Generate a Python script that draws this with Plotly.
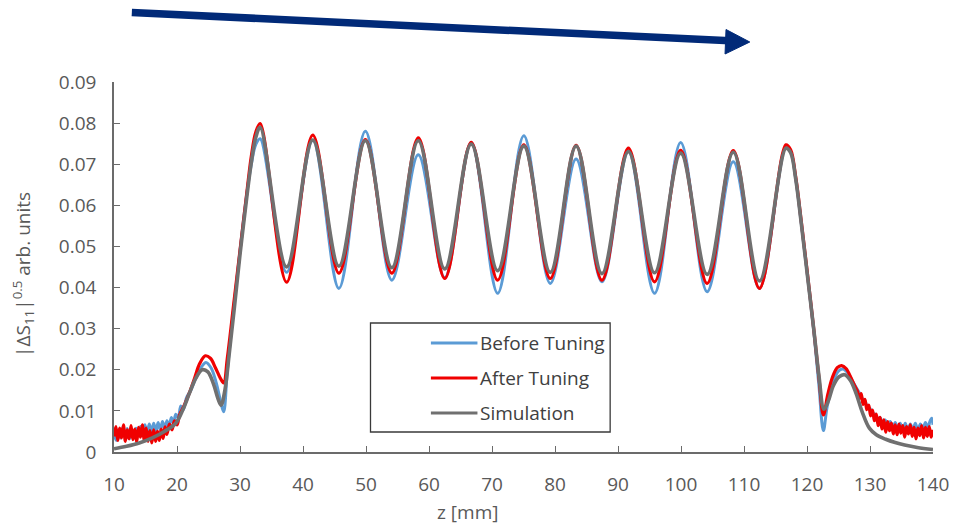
import plotly.graph_objects as go

# ---------------- data ----------------
series_names = ["Before Tuning", "After Tuning", "Simulation"]
series_colors = ["#5B9BD5", "#F00000", "#707070"]

x_ticks = [10, 20, 30, 40, 50, 60, 70, 80, 90, 100, 110, 120, 130, 140]
y_ticks = [0, 0.01, 0.02, 0.03, 0.04, 0.05, 0.06, 0.07, 0.08, 0.09]
y_tick_text = ["0", "0.01", "0.02", "0.03", "0.04", "0.05", "0.06", "0.07", "0.08", "0.09"]

# oscillation extrema positions (mm)
peak_z = [33.2, 41.55, 49.9, 58.3, 66.7, 75.05, 83.35, 91.65, 99.95, 108.3, 116.65]
valley_z = [37.4, 45.7, 54.1, 62.5, 70.9, 79.25, 87.45, 95.8, 104.15, 112.45]

before_peaks = [0.0762, 0.0758, 0.0780, 0.0723, 0.0752, 0.0769, 0.0713, 0.0731, 0.0753, 0.0706, 0.0741]
before_valleys = [0.0437, 0.0398, 0.0418, 0.0424, 0.0386, 0.0410, 0.0414, 0.0386, 0.0390, 0.0398]
after_peaks = [0.0799, 0.0771, 0.0760, 0.0764, 0.0753, 0.0747, 0.0746, 0.0739, 0.0734, 0.0733, 0.0747]
after_valleys = [0.0413, 0.0435, 0.0435, 0.0422, 0.0418, 0.0422, 0.0418, 0.0414, 0.0410, 0.0398]
sim_peaks = [0.0790, 0.0759, 0.0757, 0.0757, 0.0749, 0.0744, 0.0744, 0.0731, 0.0727, 0.0729, 0.0739]
sim_valleys = [0.0450, 0.0452, 0.0448, 0.0445, 0.0441, 0.0437, 0.0434, 0.0436, 0.0432, 0.0416]

# left part (z < first peak), right part (z > last peak)
before_left_z = [10.0, 10.35, 10.7, 11.05, 11.4, 11.75, 12.1, 12.45, 12.8, 13.15, 13.5, 13.85,
                 14.2, 14.55, 14.9, 15.25, 15.6, 15.95, 16.3, 16.65, 17.0, 17.35, 17.7, 18.05,
                 18.4, 18.75, 19.1, 19.45, 19.8, 20.2, 20.6, 21.0, 21.5, 22.2, 23.0, 23.8,
                 24.6, 25.4, 26.2, 26.9, 27.4, 28.0, 29.0, 30.0, 31.0, 31.8, 32.5]
before_left_v = [0.0045, 0.0028, 0.0054, 0.0034, 0.0060, 0.0038, 0.0057, 0.0032, 0.0052, 0.0036,
                 0.0058, 0.0040, 0.0062, 0.0043, 0.0066, 0.0046, 0.0068, 0.0048, 0.0070, 0.0050,
                 0.0072, 0.0054, 0.0074, 0.0056, 0.0076, 0.0062, 0.0084, 0.0070, 0.0092, 0.0083,
                 0.0112, 0.0103, 0.0132, 0.0150, 0.0180, 0.0205, 0.0218, 0.0205, 0.0170, 0.0125,
                 0.0098, 0.0200, 0.0350, 0.0490, 0.0620, 0.0700, 0.0748]
before_right_z = [117.4, 118.2, 119.1, 120.1, 121.1, 121.9, 122.6, 123.2, 124.0, 124.9, 125.7,
                  126.5, 127.3, 128.0, 128.4, 128.8, 129.2, 129.6, 130.0, 130.4, 130.8, 131.2,
                  131.6, 132.0, 132.4, 132.8, 133.2, 133.6, 134.0, 134.4, 134.8, 135.2, 135.6,
                  136.0, 136.4, 136.8, 137.2, 137.6, 138.0, 138.4, 138.8, 139.2, 139.5, 139.8, 140.0]
before_right_v = [0.0730, 0.0665, 0.0555, 0.0425, 0.0290, 0.0160, 0.0052, 0.0110, 0.0160, 0.0195,
                  0.0202, 0.0192, 0.0170, 0.0152, 0.0142, 0.0130, 0.0124, 0.0110, 0.0106, 0.0094,
                  0.0092, 0.0080, 0.0084, 0.0070, 0.0078, 0.0064, 0.0074, 0.0058, 0.0072, 0.0056,
                  0.0070, 0.0054, 0.0070, 0.0052, 0.0068, 0.0054, 0.0070, 0.0052, 0.0068, 0.0056,
                  0.0072, 0.0058, 0.0074, 0.0082, 0.0066]

after_left_z = [10.0, 10.3, 10.6, 10.9, 11.2, 11.5, 11.8, 12.1, 12.4, 12.7, 13.0, 13.3, 13.6,
                13.9, 14.2, 14.5, 14.8, 15.1, 15.4, 15.7, 16.0, 16.3, 16.6, 16.9, 17.2, 17.5,
                17.8, 18.1, 18.4, 18.8, 19.2, 19.6, 20.0, 20.4, 21.2, 22.0, 22.8, 23.6, 24.5,
                25.3, 26.1, 26.8, 27.4, 28.0, 29.0, 30.0, 31.0, 31.8, 32.5]
after_left_v = [0.0038, 0.0062, 0.0028, 0.0058, 0.0034, 0.0066, 0.0026, 0.0054, 0.0032, 0.0064,
                0.0030, 0.0056, 0.0024, 0.0060, 0.0036, 0.0066, 0.0029, 0.0058, 0.0026, 0.0052,
                0.0022, 0.0054, 0.0026, 0.0050, 0.0028, 0.0056, 0.0033, 0.0061, 0.0043, 0.0068,
                0.0054, 0.0076, 0.0066, 0.0090, 0.0115, 0.0145, 0.0180, 0.0215, 0.0234, 0.0228,
                0.0205, 0.0182, 0.0168, 0.0230, 0.0360, 0.0490, 0.0620, 0.0720, 0.0778]
after_right_z = [117.4, 118.2, 119.1, 120.1, 121.1, 121.9, 122.6, 123.3, 124.0, 124.8, 125.5,
                 126.2, 127.0, 127.6, 128.0, 128.3, 128.6, 128.9, 129.2, 129.5, 129.8, 130.1,
                 130.4, 130.7, 131.0, 131.3, 131.6, 131.9, 132.2, 132.5, 132.8, 133.1, 133.4,
                 133.7, 134.0, 134.3, 134.6, 134.9, 135.2, 135.5, 135.8, 136.1, 136.4, 136.7,
                 137.0, 137.3, 137.6, 137.9, 138.2, 138.5, 138.8, 139.1, 139.4, 139.7, 140.0]
after_right_v = [0.0735, 0.0670, 0.0560, 0.0430, 0.0295, 0.0180, 0.0090, 0.0140, 0.0180, 0.0205,
                 0.0210, 0.0203, 0.0180, 0.0160, 0.0148, 0.0130, 0.0142, 0.0116, 0.0128, 0.0103,
                 0.0114, 0.0088, 0.0102, 0.0076, 0.0092, 0.0064, 0.0084, 0.0056, 0.0078, 0.0048,
                 0.0074, 0.0052, 0.0070, 0.0044, 0.0066, 0.0042, 0.0068, 0.0046, 0.0064, 0.0036,
                 0.0062, 0.0044, 0.0066, 0.0038, 0.0060, 0.0032, 0.0058, 0.0040, 0.0064, 0.0034,
                 0.0060, 0.0038, 0.0062, 0.0036, 0.0054]

sim_left_z = [10.0, 12.0, 14.0, 16.0, 18.0, 19.8, 21.0, 21.9, 23.0, 24.0, 24.9, 25.8, 26.5,
              27.0, 27.6, 28.3, 29.1, 30.0, 31.0, 31.8, 32.5]
sim_left_v = [0.0008, 0.0014, 0.0022, 0.0034, 0.0050, 0.0070, 0.0105, 0.0140, 0.0180, 0.0200,
              0.0195, 0.0165, 0.0130, 0.0114, 0.0150, 0.0240, 0.0350, 0.0480, 0.0610, 0.0705, 0.0765]
sim_right_z = [117.4, 118.2, 119.1, 120.1, 121.1, 121.9, 122.7, 123.4, 124.2, 125.1, 126.0,
               126.9, 127.8, 128.8, 129.9, 131.0, 132.5, 134.0, 135.5, 137.5, 140.0]
sim_right_v = [0.0728, 0.0665, 0.0555, 0.0425, 0.0295, 0.0185, 0.0104, 0.0125, 0.0162, 0.0183,
               0.0188, 0.0174, 0.0142, 0.0096, 0.0058, 0.0042, 0.0031, 0.0023, 0.0017, 0.0011, 0.0006]


def assemble(left_z, left_v, peaks, valleys, right_z, right_v):
    zs, vs = list(left_z), list(left_v)
    for i, pz in enumerate(peak_z):
        zs.append(pz)
        vs.append(peaks[i])
        if i < len(valley_z):
            zs.append(valley_z[i])
            vs.append(valleys[i])
    zs += right_z
    vs += right_v
    return zs, vs


series = [
    assemble(before_left_z, before_left_v, before_peaks, before_valleys, before_right_z, before_right_v),
    assemble(after_left_z, after_left_v, after_peaks, after_valleys, after_right_z, after_right_v),
    assemble(sim_left_z, sim_left_v, sim_peaks, sim_valleys, sim_right_z, sim_right_v),
]
line_widths = [3, 3.2, 3.6]

# ---------------- figure ----------------
W, H = 961, 527
ML, MR, MT, MB = 114, 20, 82, 75
PW, PH = W - ML - MR, H - MT - MB
FONT = "Open Sans, sans-serif"


def px(x):
    return (x - ML) / PW


def py(y):
    return (H - MB - y) / PH


fig = go.Figure()
for (zs, vs), name, color, lw in zip(series, series_names, series_colors, line_widths):
    fig.add_trace(go.Scatter(x=zs, y=vs, mode="lines", name=name, showlegend=False,
                             line=dict(color=color, width=lw, shape="spline", smoothing=1.0)))

tick_font = dict(family=FONT, size=19, color="#595959")
axis_common = dict(showline=True, linecolor="#6b6b6b", linewidth=1.5, ticks="inside",
                   ticklen=6, tickwidth=1.3, tickcolor="#6b6b6b", showgrid=False,
                   zeroline=False, tickfont=tick_font)

fig.update_layout(
    width=W, height=H, margin=dict(l=ML, r=MR, t=MT, b=MB),
    paper_bgcolor="white", plot_bgcolor="white",
    xaxis=dict(range=[10, 140], tickvals=x_ticks, ticktext=[str(t) for t in x_ticks],
               ticklabelstandoff=14, **axis_common),
    yaxis=dict(range=[0, 0.09], tickvals=y_ticks, ticktext=y_tick_text,
               ticklabelstandoff=12, **axis_common),
)

shapes = []
annotations = []

# axis titles
annotations.append(dict(xref="paper", yref="paper", x=px(22), y=py(274), showarrow=False,
                        text="|ΔS<sub>11</sub>|<sup>0.5</sup> arb. units", textangle=-90,
                        xanchor="center", yanchor="middle",
                        font=dict(family=FONT, size=19, color="#595959")))
annotations.append(dict(xref="paper", yref="paper", x=px(471), y=py(512), showarrow=False,
                        text="z [mm]", xanchor="center", yanchor="middle",
                        font=dict(family=FONT, size=19, color="#595959")))

# legend box (drawn manually to match the reference layout)
shapes.append(dict(type="rect", xref="paper", yref="paper", x0=px(373), x1=px(615),
                   y0=py(432), y1=py(323), line=dict(color="#3a3a3a", width=1.3),
                   fillcolor="white", layer="above"))
legend_rows = [343, 378, 413]
for name, color, yy in zip(series_names, series_colors, legend_rows):
    shapes.append(dict(type="line", xref="paper", yref="paper", x0=px(434), x1=px(481),
                       y0=py(yy), y1=py(yy), line=dict(color=color, width=3.2), layer="above"))
    annotations.append(dict(xref="paper", yref="paper", x=px(482), y=py(yy), showarrow=False,
                            text=name, xanchor="left", yanchor="middle",
                            font=dict(family=FONT, size=19, color="#404040")))

# navy arrow above the chart
shapes.append(dict(type="line", xref="paper", yref="paper", x0=px(132), y0=py(12.5),
                   x1=px(736), y1=py(40.8), line=dict(color="#012a78", width=7.5), layer="above"))
shapes.append(dict(type="path", xref="paper", yref="paper",
                   path=f"M {px(732)},{py(29.5)} L {px(756)},{py(42)} L {px(731)},{py(54)} Z",
                   fillcolor="#012a78", line=dict(color="#012a78", width=1), layer="above"))

fig.update_layout(shapes=shapes, annotations=annotations)
fig.write_html("out.html")
